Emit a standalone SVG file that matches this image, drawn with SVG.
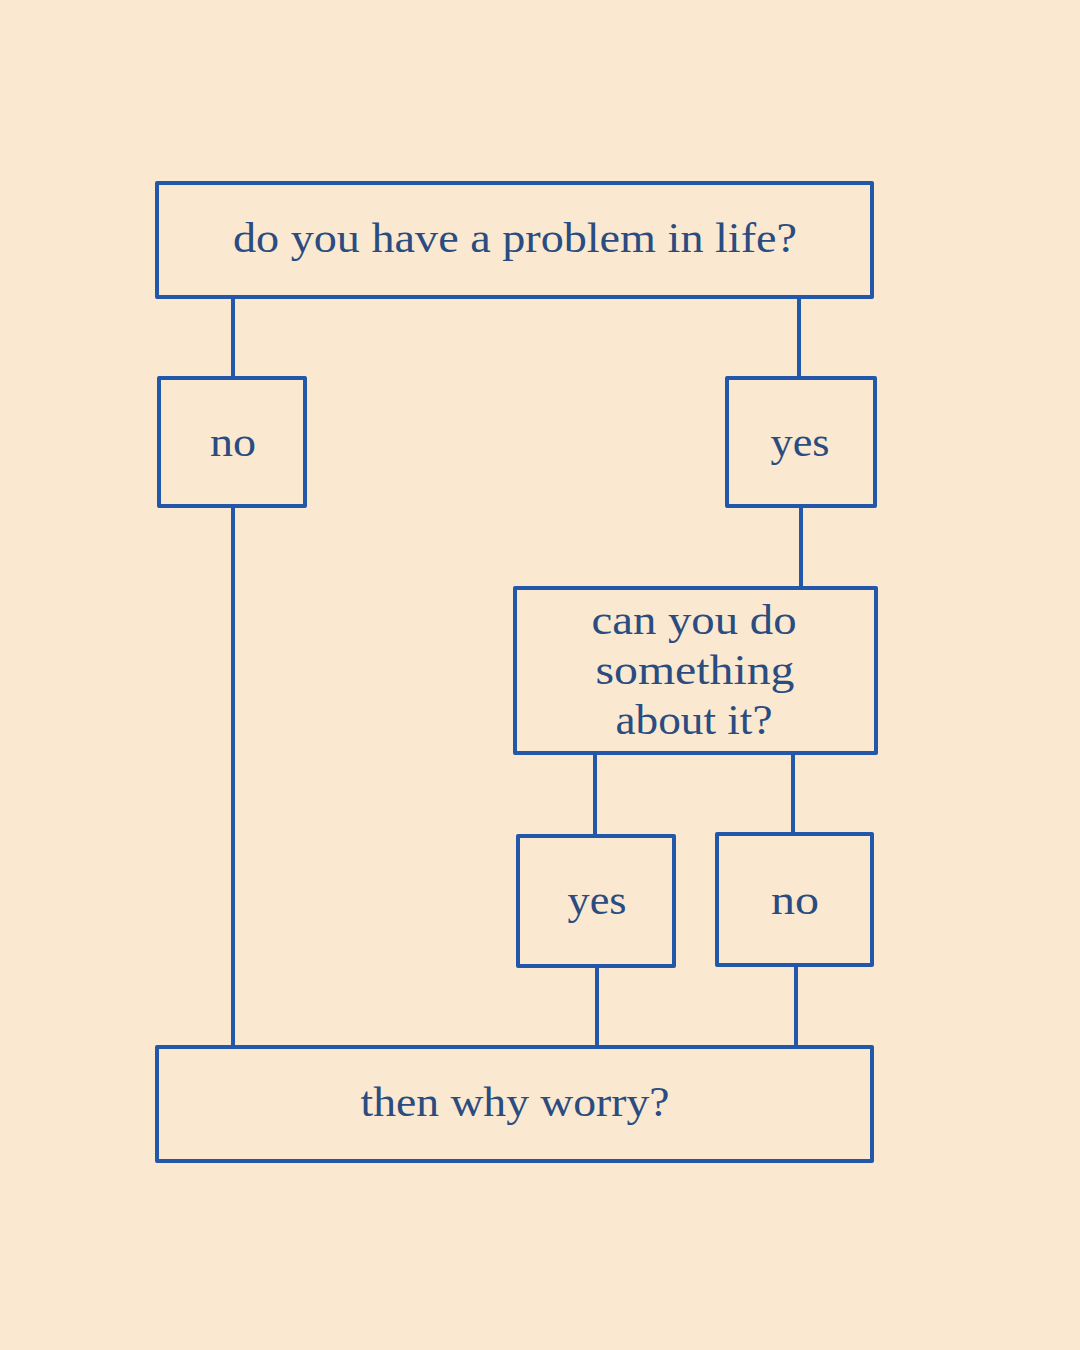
<svg xmlns="http://www.w3.org/2000/svg" width="1080" height="1350" viewBox="0 0 1080 1350">
<style>
.box{fill:none;stroke:#2257AA;stroke-width:4;stroke-linejoin:round}
.ln{stroke:#2257AA;stroke-width:4;fill:none}
text{font-family:"Liberation Serif","DejaVu Serif",serif;fill:#2A4C80;font-size:42px;text-anchor:middle}
</style>
<rect width="1080" height="1350" fill="#FAE9D0"/>
<g id="connectors">
<line class="ln" x1="233" y1="297" x2="233" y2="378"/>
<line class="ln" x1="233" y1="506" x2="233" y2="1047"/>
<line class="ln" x1="799" y1="297" x2="799" y2="378"/>
<line class="ln" x1="801" y1="506" x2="801" y2="588"/>
<line class="ln" x1="595" y1="753" x2="595" y2="836"/>
<line class="ln" x1="793" y1="753" x2="793" y2="834"/>
<line class="ln" x1="597" y1="966" x2="597" y2="1047"/>
<line class="ln" x1="796" y1="965" x2="796" y2="1047"/>
</g>
<g id="q1"><rect class="box" x="157" y="183" width="715" height="114"/><text x="515" y="252" textLength="564" lengthAdjust="spacingAndGlyphs">do you have a problem in life?</text></g>
<g id="no1"><rect class="box" x="159" y="378" width="146" height="128"/><text x="233" y="456" textLength="46" lengthAdjust="spacingAndGlyphs">no</text></g>
<g id="yes1"><rect class="box" x="727" y="378" width="148" height="128"/><text x="800" y="456" textLength="59" lengthAdjust="spacingAndGlyphs">yes</text></g>
<g id="q2"><rect class="box" x="515" y="588" width="361" height="165"/><text x="694" y="634" textLength="205" lengthAdjust="spacingAndGlyphs">can you do</text><text x="695" y="684" textLength="199" lengthAdjust="spacingAndGlyphs">something</text><text x="694" y="734" textLength="157" lengthAdjust="spacingAndGlyphs">about it?</text></g>
<g id="yes2"><rect class="box" x="518" y="836" width="156" height="130"/><text x="597" y="914" textLength="59" lengthAdjust="spacingAndGlyphs">yes</text></g>
<g id="no2"><rect class="box" x="717" y="834" width="155" height="131"/><text x="795" y="914" textLength="48" lengthAdjust="spacingAndGlyphs">no</text></g>
<g id="end"><rect class="box" x="157" y="1047" width="715" height="114"/><text x="515" y="1116" textLength="309" lengthAdjust="spacingAndGlyphs">then why worry?</text></g>
</svg>
